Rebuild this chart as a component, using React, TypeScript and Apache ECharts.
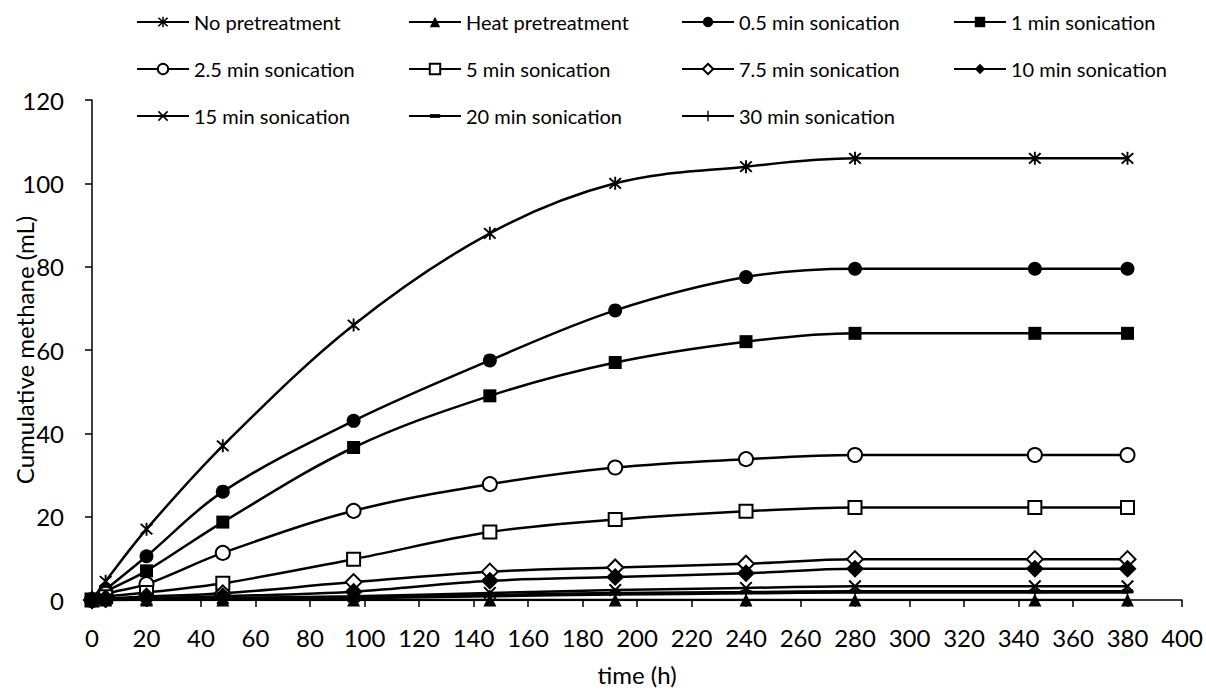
import { useEffect, useRef } from "react";
import * as echarts from "echarts";

const timeH = [0, 5, 20, 48, 96, 146, 192, 240, 280, 346, 380];

const seriesNames = [
  "No pretreatment",
  "Heat pretreatment",
  "0.5 min sonication",
  "1 min sonication",
  "2.5 min sonication",
  "5 min sonication",
  "7.5 min sonication",
  "10 min sonication",
  "15 min sonication",
  "20 min sonication",
  "30 min sonication",
];

const noPretreatment = [0, 4.5, 17, 37, 66, 88, 100, 104, 106, 106, 106];
const heatPretreatment = [0, 0, 0, 0, 0, 0, 0, 0, 0, 0, 0];
const son05 = [0, 2.5, 10.5, 26, 43, 57.5, 69.5, 77.5, 79.5, 79.5, 79.5];
const son1 = [0, 2, 7, 18.7, 36.6, 49, 57, 62, 64, 64, 64];
const son25 = [0, 1.5, 3.8, 11.3, 21.4, 27.8, 31.8, 33.8, 34.8, 34.8, 34.8];
const son5 = [0, 0.8, 1.8, 4, 9.8, 16.3, 19.3, 21.3, 22.2, 22.2, 22.2];
const son75 = [0, 0.3, 0.8, 1.6, 4.3, 6.8, 7.8, 8.7, 9.8, 9.8, 9.8];
const son10 = [0, 0.2, 0.4, 0.9, 2, 4.6, 5.5, 6.4, 7.5, 7.5, 7.5];
const son15 = [0, 0.1, 0.2, 0.5, 0.9, 1.7, 2.4, 2.9, 3.3, 3.3, 3.3];
const son20 = [0, 0, 0.1, 0.3, 0.6, 1.2, 1.7, 1.9, 2.1, 2.1, 2.1];
const son30 = [0, 0, 0.1, 0.2, 0.4, 0.9, 1.3, 1.6, 1.8, 1.8, 1.8];

const allValues = [
  noPretreatment,
  heatPretreatment,
  son05,
  son1,
  son25,
  son5,
  son75,
  son10,
  son15,
  son20,
  son30,
];

const legendColumns = [
  ["No pretreatment", "2.5 min sonication", "15 min sonication"],
  ["Heat pretreatment", "5 min sonication", "20 min sonication"],
  ["0.5 min sonication", "7.5 min sonication", "30 min sonication"],
  ["1 min sonication", "10 min sonication"],
];

const xAxisTitle = "time (h)";
const yAxisTitle = "Cumulative methane (mL)";

const ASTERISK =
  "path://M1,3L3,1L19,17L17,19Z M17,1L19,3L3,19L1,17Z M8.7,0H11.3V20H8.7Z";
const XMARK = "path://M1,3L3,1L19,17L17,19Z M17,1L19,3L3,19L1,17Z";
const PLUS = "path://M8.7,0H11.3V20H8.7Z M20,8.7V11.3H0V8.7Z";
const DASH = "path://M0,0 M0,10 M0,3.2H10V6.8H0Z";

const symbols: any[] = [
  ASTERISK,
  "triangle",
  "circle",
  "rect",
  "emptyCircle",
  "emptyRect",
  "emptyDiamond",
  "diamond",
  XMARK,
  DASH,
  PLUS,
];
const symbolSizes: any[] = [13, 13, 14, 13, 14, 13, 16, 18, 13, 11, 12];

const FONT = "Lato, 'Open Sans', sans-serif";

export default function App() {
  const ref = useRef<HTMLDivElement>(null);
  useEffect(() => {
    if (!ref.current) return;
    const chart = echarts.init(ref.current, undefined, { renderer: "svg" });
    const series = seriesNames.map((name, i) => ({
      name,
      type: "line",
      smooth: 0.35,
      data: timeH.map((t, j) => [t, allValues[i][j]]),
      symbol: symbols[i],
      symbolSize: symbolSizes[i],
      showAllSymbol: true,
      lineStyle: { color: "#000", width: 2.5 },
      itemStyle: {
        color: "#000",
        borderColor: "#000",
        borderWidth: String(symbols[i]).startsWith("empty") ? 1.6 : 0,
      },
      emphasis: { disabled: true },
      z: 2 + i * 0.01,
    }));
    const colLefts = [136, 408, 681, 953];
    const legends = legendColumns.map((names, c) => ({
      data: names,
      orient: "vertical",
      left: colLefts[c],
      top: 12,
      padding: 0,
      itemWidth: 52,
      itemHeight: 13,
      itemGap: 27,
      selectedMode: false,
      textStyle: { fontFamily: FONT, fontSize: 20, color: "#000" },
    }));
    chart.setOption({
      animation: false,
      backgroundColor: "#fff",
      legend: legends,
      grid: {
        left: 92,
        right: 24,
        top: 100,
        bottom: 90,
        containLabel: false,
        outerBoundsMode: "none",
      },
      graphic: [
        {
          type: "text",
          x: 24,
          y: 350,
          rotation: Math.PI / 2,
          style: {
            text: yAxisTitle,
            fontFamily: FONT,
            fontSize: 24,
            fill: "#000",
            align: "center",
            verticalAlign: "middle",
          },
        },
      ],
      xAxis: {
        type: "value",
        min: 0,
        max: 400,
        interval: 20,
        name: xAxisTitle,
        nameLocation: "middle",
        nameGap: 62,
        nameTextStyle: { fontFamily: FONT, fontSize: 24, color: "#000" },
        axisLine: { show: true, lineStyle: { color: "#000", width: 1.5 } },
        axisTick: { show: true, length: 7, lineStyle: { color: "#000", width: 1.5 } },
        axisLabel: { fontFamily: FONT, fontSize: 24, color: "#000", margin: 25 },
        splitLine: { show: false },
      },
      yAxis: {
        type: "value",
        min: 0,
        max: 120,
        interval: 20,
        axisLine: { show: true, lineStyle: { color: "#000", width: 1.5 } },
        axisTick: { show: true, length: 7, lineStyle: { color: "#000", width: 1.5 } },
        axisLabel: { fontFamily: FONT, fontSize: 24, color: "#000", margin: 28 },
        splitLine: { show: false },
      },
      series,
    });
    return () => chart.dispose();
  }, []);
  return (
    <div
      ref={ref}
      style={{ position: "absolute", left: 0, top: 0, width: 1206, height: 690 }}
    />
  );
}
